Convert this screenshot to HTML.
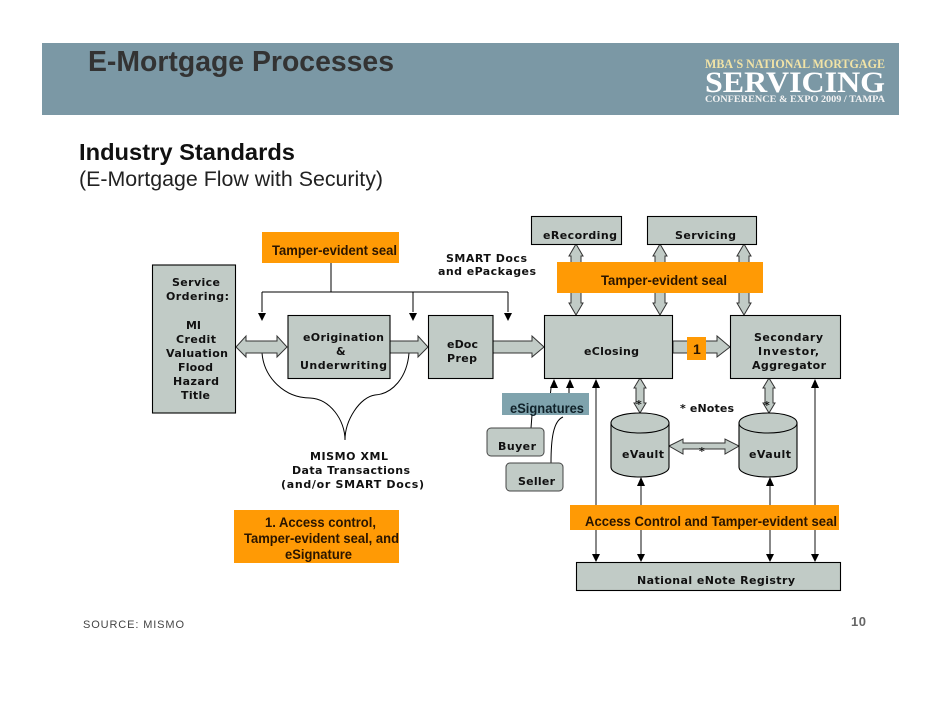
<!DOCTYPE html>
<html><head><meta charset="utf-8"><title>E-Mortgage Processes</title>
<style>
html,body{margin:0;padding:0;background:#fff;width:942px;height:728px;overflow:hidden}
svg{display:block}
.d{font-family:"DejaVu Sans",sans-serif;font-weight:700;font-size:11px;fill:#111;}
.a{font-family:"Liberation Sans",sans-serif;font-weight:700;font-size:14px;fill:#2a1500;}
.box{fill:#c1cbc6;stroke:#000;stroke-width:1.1}
.ar{fill:#c1cbc6;stroke:#333;stroke-width:1}
.o{fill:#ff9a05}
.l{stroke:#000;stroke-width:1;fill:none}
.h{fill:#000}
</style></head><body>
<svg width="942" height="728" viewBox="0 0 942 728" xmlns="http://www.w3.org/2000/svg">
<rect x="42" y="43" width="857" height="72" fill="#7b98a5"/>
<text x="88" y="71" font-family="Liberation Sans" font-weight="700" font-size="29" fill="#333" textLength="306" lengthAdjust="spacingAndGlyphs">E-Mortgage Processes</text>
<text x="705" y="68" font-family="Liberation Serif" font-weight="700" font-size="13" fill="#f1e3a6" textLength="180" lengthAdjust="spacingAndGlyphs">MBA'S NATIONAL MORTGAGE</text>
<text x="705" y="92" font-family="Liberation Serif" font-weight="700" font-size="30" fill="#fff" textLength="180" lengthAdjust="spacingAndGlyphs">SERVICING</text>
<text x="705" y="102" font-family="Liberation Serif" font-weight="700" font-size="9" fill="#f2f2f2" textLength="180" lengthAdjust="spacingAndGlyphs">CONFERENCE &amp; EXPO 2009 / TAMPA</text>
<text x="79" y="160" font-family="Liberation Sans" font-weight="700" font-size="23" fill="#111" textLength="216" lengthAdjust="spacingAndGlyphs">Industry Standards</text>
<text x="79" y="186" font-family="Liberation Sans" font-size="21" fill="#222" textLength="304" lengthAdjust="spacingAndGlyphs">(E-Mortgage Flow with Security)</text>

<!-- curves -->
<path class="l" d="M262 353C264 378 285 398 310 398C330 399 345 420 345 440"/>
<path class="l" d="M409 353C407 378 392 394 375 395C360 397 345 420 345 440"/>

<!-- block arrows -->
<path class="ar" d="M236 347L246 336V341H277V336L287 347L277 357V353H246V357Z"/>
<path class="ar" d="M390 341H418V336L428 347L418 357V353H390Z"/>
<path class="ar" d="M493 341H532V336L544 347L532 357V353H493Z"/>
<path class="ar" d="M673 341H717V336L730 347L717 357V353H673Z"/>
<path class="ar" d="M576 244L583 256H581V303H583L576 315L569 303H571V256H569Z"/>
<path class="ar" d="M660 244L667 256H665V303H667L660 315L653 303H655V256H653Z"/>
<path class="ar" d="M744 244L751 256H749V303H751L744 315L737 303H739V256H737Z"/>
<path class="ar" d="M640 378L646 388H644V403H646L640 413L634 403H636V388H634Z"/>
<path class="ar" d="M769 378L775 388H773V403H775L769 413L763 403H765V388H763Z"/>
<path class="ar" d="M669 446L683 439V443H725V439L739 446L725 454V449H683V454Z"/>

<!-- tamper top lines -->
<path class="l" d="M331 263V292M262 292H508M262 292V312M413 292V312M508 292V312"/>
<path class="h" d="M258 313H266L262 321ZM409 313H417L413 321ZM504 313H512L508 321Z"/>

<!-- vertical lines -->
<path class="l" d="M596 386V555M641 486V555M770 486V555M815 386V555" style="stroke:#111"/>
<path class="l" d="M551 388L550.500 393M569 388V393M532 415L531 428M563 417C553 421 551 440 551 463"/>
<path class="h" d="M550 388L554 379L558 388ZM566 388L570 379L574 388ZM592 388L596 379L600 388ZM811 388L815 379L819 388Z"/>
<path class="h" d="M637 486L641 477L645 486ZM766 486L770 477L774 486Z"/>
<path class="h" d="M592 554H600L596 562ZM637 554H645L641 562ZM766 554H774L770 562ZM811 554H819L815 562Z"/>

<!-- boxes -->
<rect class="box" x="152.500" y="265" width="83" height="148"/>
<rect class="box" x="288" y="315.500" width="102" height="63"/>
<rect class="box" x="428.500" y="315.500" width="64.500" height="63"/>
<rect class="box" x="531.500" y="216.500" width="90" height="28"/>
<rect class="box" x="647.500" y="216.500" width="109" height="28"/>
<rect class="box" x="544.500" y="315.500" width="128" height="63"/>
<rect class="box" x="730.500" y="315.500" width="110" height="63"/>
<rect class="box" x="576.500" y="562.500" width="264" height="28"/>
<rect x="487" y="428" width="57" height="28" rx="4" fill="#c1cbc6" stroke="#444"/>
<rect x="506" y="463" width="57" height="28" rx="4" fill="#c1cbc6" stroke="#444"/>

<!-- vaults -->
<path class="box" d="M611 423C611 417 624 413 640 413S669 417 669 423V467C669 473 656 477 640 477S611 473 611 467Z"/>
<path class="l" d="M611 423C611 429 624 433 640 433S669 429 669 423"/>
<path class="box" d="M739 423C739 417 752 413 768 413S797 417 797 423V467C797 473 784 477 768 477S739 473 739 467Z"/>
<path class="l" d="M739 423C739 429 752 433 768 433S797 429 797 423"/>

<!-- orange -->
<rect class="o" x="262" y="232" width="137" height="31"/>
<rect class="o" x="557" y="262" width="206" height="31"/>
<rect class="o" x="687" y="337" width="19" height="23"/>
<rect class="o" x="570" y="505" width="269" height="25"/>
<rect class="o" x="234" y="510" width="165" height="53"/>
<rect x="502" y="393" width="87" height="22" fill="#7fa3ad"/>

<!-- labels arial -->
<text class="a" x="272" y="255" textLength="125" lengthAdjust="spacingAndGlyphs">Tamper-evident seal</text>
<text class="a" x="601" y="285" textLength="126" lengthAdjust="spacingAndGlyphs">Tamper-evident seal</text>
<text class="a" x="693" y="354" font-size="12">1</text>
<text class="a" x="510" y="413" textLength="74" lengthAdjust="spacingAndGlyphs" style="fill:#10222a;font-size:13.500px">eSignatures</text>
<text class="a" x="585" y="526" textLength="252" lengthAdjust="spacingAndGlyphs">Access Control and Tamper-evident seal</text>
<text class="a" x="265" y="527" textLength="111" lengthAdjust="spacingAndGlyphs">1. Access control,</text>
<text class="a" x="244" y="543" textLength="155" lengthAdjust="spacingAndGlyphs">Tamper-evident seal, and</text>
<text class="a" x="285" y="559" textLength="67" lengthAdjust="spacingAndGlyphs">eSignature</text>

<!-- labels dejavu -->
<text class="d" x="172" y="286" textLength="48">Service</text>
<text class="d" x="166" y="300" textLength="63">Ordering:</text>
<text class="d" x="186" y="329" textLength="15">MI</text>
<text class="d" x="176" y="343" textLength="40">Credit</text>
<text class="d" x="166" y="357" textLength="62">Valuation</text>
<text class="d" x="178" y="371" textLength="35">Flood</text>
<text class="d" x="173" y="385" textLength="46">Hazard</text>
<text class="d" x="181" y="399" textLength="29">Title</text>
<text class="d" x="446" y="262" textLength="81">SMART Docs</text>
<text class="d" x="438" y="275" textLength="98">and ePackages</text>
<text class="d" x="303" y="341" textLength="81">eOrigination</text>
<text class="d" x="336" y="355" textLength="8">&amp;</text>
<text class="d" x="300" y="369" textLength="87">Underwriting</text>
<text class="d" x="447" y="348" textLength="31">eDoc</text>
<text class="d" x="447" y="362" textLength="30">Prep</text>
<text class="d" x="543" y="239" textLength="74">eRecording</text>
<text class="d" x="675" y="239" textLength="61">Servicing</text>
<text class="d" x="584" y="355" textLength="55">eClosing</text>
<text class="d" x="754" y="341" textLength="69">Secondary</text>
<text class="d" x="758" y="355" textLength="61">Investor,</text>
<text class="d" x="752" y="369" textLength="74">Aggregator</text>
<text class="d" x="680" y="412" textLength="54">* eNotes</text>
<text class="d" x="622" y="458" textLength="42">eVault</text>
<text class="d" x="749" y="458" textLength="42">eVault</text>
<text class="d" x="498" y="450" textLength="38">Buyer</text>
<text class="d" x="518" y="485" textLength="37">Seller</text>
<text class="d" x="637" y="584" textLength="158">National eNote Registry</text>
<text class="d" x="310" y="460" textLength="78">MISMO XML</text>
<text class="d" x="292" y="474" textLength="118">Data Transactions</text>
<text class="d" x="281" y="488" textLength="143">(and/or SMART Docs)</text>
<text class="d" x="636" y="408">*</text>
<text class="d" x="764" y="409">*</text>
<text class="d" x="699" y="455">*</text>

<text x="83" y="628" font-family="Liberation Sans" font-size="11" fill="#444" textLength="101">SOURCE:  MISMO</text>
<text x="851" y="626" font-family="Liberation Sans" font-weight="700" font-size="13" fill="#666" textLength="15">10</text>
</svg>
</body></html>
